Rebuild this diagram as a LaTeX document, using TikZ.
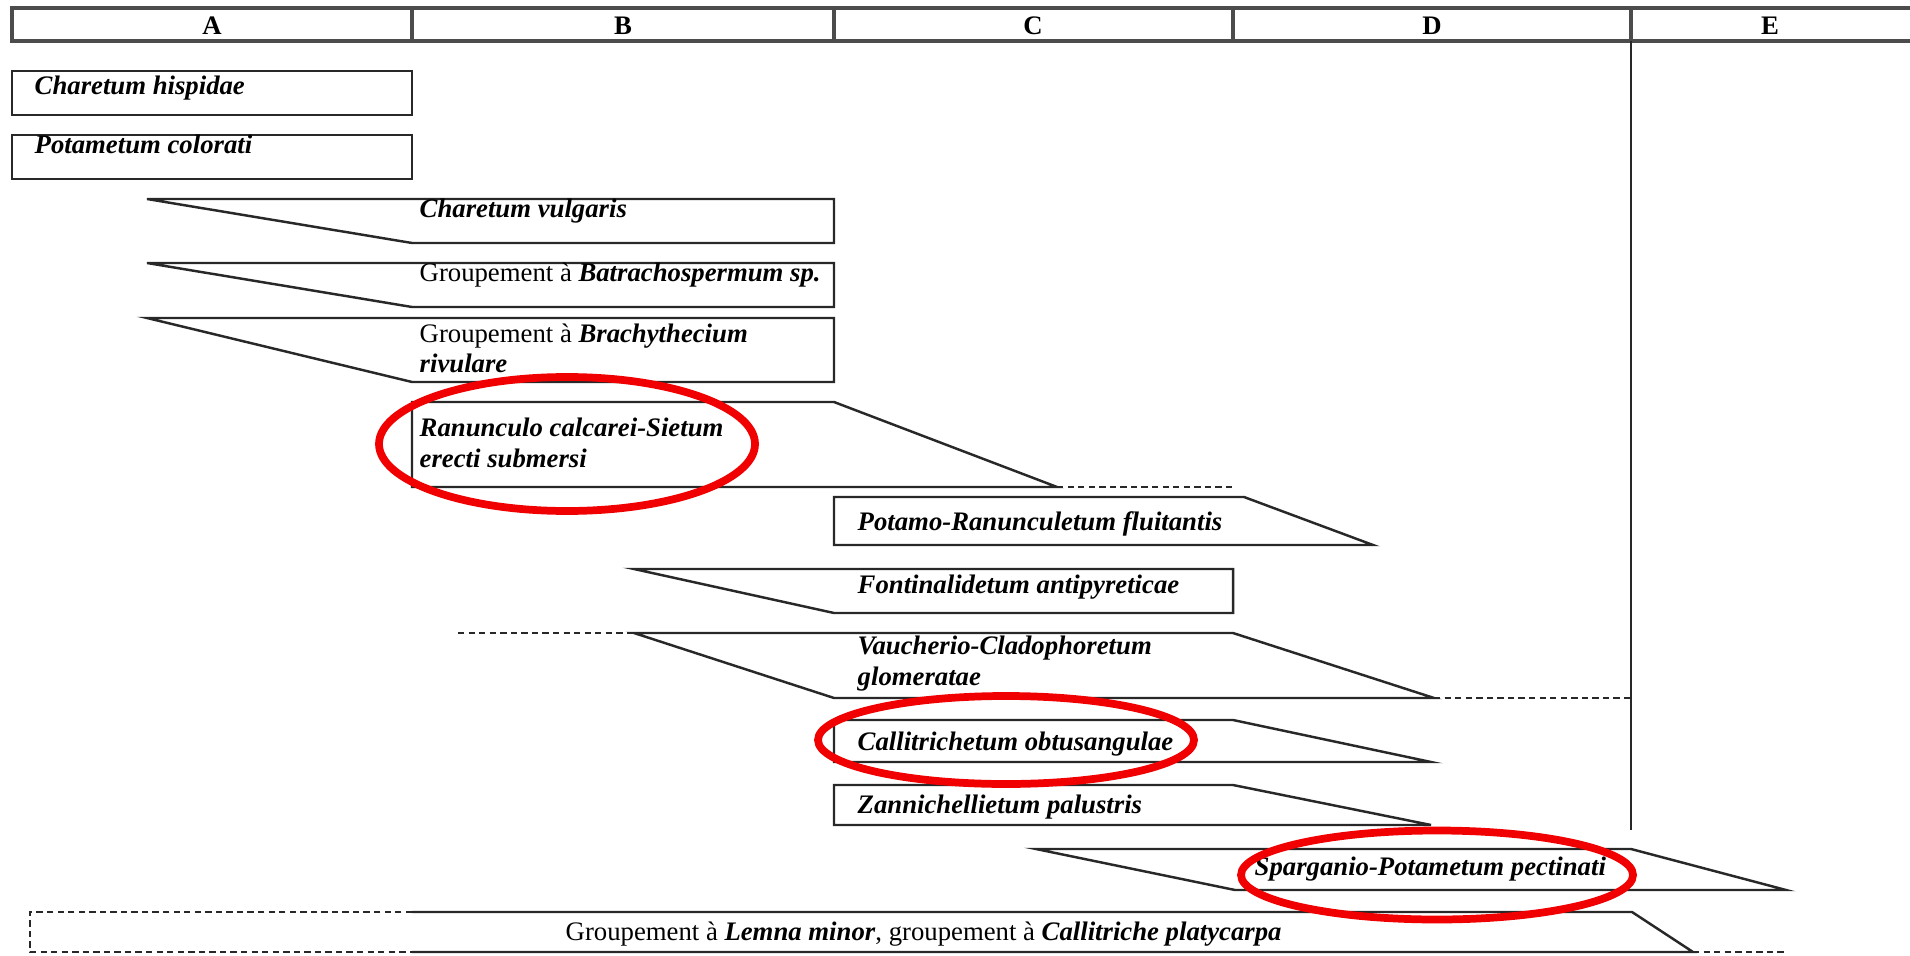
\documentclass[tikz,border=0pt]{standalone}
\usepackage{fontspec}
\setmainfont{Liberation Serif}
\usepackage{tikz}
\definecolor{markred}{RGB}{240,0,0}
\definecolor{linegray}{RGB}{40,40,40}
\newcommand{\taxon}[1]{\textbf{\textit{#1}}}

\begin{document}
\begin{tikzpicture}[x=0.01cm,y=-0.01cm,
  font=\fontsize{7.6}{8.6}\selectfont,
  rule/.style={line width=0.7pt,linegray},
  headrule/.style={line width=1pt,black!70},
  gap/.style={rule,dash pattern=on 1.8pt off 1.2pt},
  label/.style={anchor=base west,inner sep=0pt,align=left},
  colhead/.style={anchor=base,inner sep=0pt,font=\fontsize{7.6}{8.6}\selectfont\bfseries},
  ring/.style={line width=2.2pt,markred}]

  \useasboundingbox (0,0) rectangle (1910,955);

  \draw[headrule] (1910,8) -- (12,8) -- (12,41) -- (1910,41);
  \foreach \x in {412,834,1233,1631}
    \draw[headrule] (\x,8) -- (\x,41);
  \draw[rule] (1631,41) -- (1631,830);
  \node[colhead] (colA) at (212,35) {A};
  \node[colhead] (colB) at (623,35) {B};
  \node[colhead] (colC) at (1033,35) {C};
  \node[colhead] (colD) at (1432,35) {D};
  \node[colhead] (colE) at (1770,35) {E};

  \draw[rule] (12,71) rectangle (412,115);
  \draw[rule] (12,135) rectangle (412,179);
  \draw[rule] (147,199) -- (834,199) -- (834,243) -- (412,243) -- cycle;
  \draw[rule] (147,263) -- (834,263) -- (834,307) -- (412,307) -- cycle;
  \draw[rule] (147,318) -- (834,318) -- (834,382) -- (412,382) -- cycle;
  \draw[rule] (412,402) -- (834,402) -- (1057,487) -- (412,487) -- cycle;
  \draw[gap] (1057,487) -- (1233,487);
  \draw[rule] (834,497) -- (1244,497) -- (1373,545) -- (834,545) -- cycle;
  \draw[rule] (634,569) -- (1233,569) -- (1233,613) -- (834,613) -- cycle;
  \draw[gap] (458,633) -- (634,633);
  \draw[rule] (634,633) -- (1233,633) -- (1434,698) -- (834,698) -- cycle;
  \draw[gap] (1434,698) -- (1631,698);
  \draw[rule] (834,720) -- (1233,720) -- (1431,762) -- (834,762) -- cycle;
  \draw[rule] (834,785) -- (1233,785) -- (1431,825) -- (834,825) -- cycle;
  \draw[rule] (1036,849) -- (1631,849) -- (1786,890) -- (1235,890) -- cycle;
  \draw[gap] (412,912) -- (30,912) -- (30,952) -- (412,952);
  \draw[rule] (412,912) -- (1632,912) -- (1693,952) -- (412,952);
  \draw[gap] (1693,952) -- (1784,952);

  \node[label] (hispidae) at (34,95) {\taxon{Charetum hispidae}};
  \node[label] (colorati) at (34,154) {\taxon{Potametum colorati}};
  \node[label] (vulgaris) at (419,218) {\taxon{Charetum vulgaris}};
  \node[label] (batracho) at (419,282) {Groupement à \taxon{Batrachospermum sp.}};
  \node[label] (brachy) at (419,373) {Groupement à \taxon{Brachythecium}\\\taxon{rivulare}};
  \node[label] (ranunculo) at (419,467) {\taxon{Ranunculo calcarei-Sietum}\\\taxon{erecti submersi}};
  \node[label] (potamo) at (857,530) {\taxon{Potamo-Ranunculetum fluitantis}};
  \node[label] (fontinal) at (857,593) {\taxon{Fontinalidetum antipyreticae}};
  \node[label] (vaucherio) at (857,685) {\taxon{Vaucherio-Cladophoretum}\\\taxon{glomeratae}};
  \node[label] (callitr) at (857,750) {\taxon{Callitrichetum obtusangulae}};
  \node[label] (zannich) at (857,813) {\taxon{Zannichellietum palustris}};
  \node[label] (spargan) at (1254,875) {\taxon{Sparganio-Potametum pectinati}};
  \node[label] (lemna) at (565,940) {Groupement à \taxon{Lemna minor}, groupement à \taxon{Callitriche platycarpa}};

  \draw[ring] (567,444) ellipse [x radius=188, y radius=67];
  \draw[ring] (1006,740) ellipse [x radius=188, y radius=44];
  \draw[ring] (1437,875) ellipse [x radius=196, y radius=44.5];
\end{tikzpicture}
\end{document}
